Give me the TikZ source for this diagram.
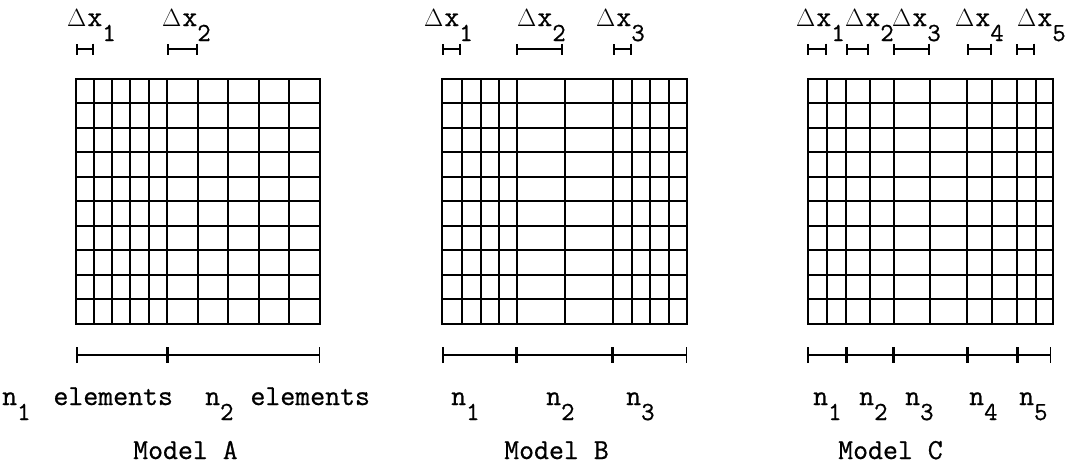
\documentclass[tikz,border=0pt]{standalone}
\usepackage{fontspec}
\usetikzlibrary{arrows.meta}
\newfontfamily\tw[RawFeature={embolden=0.7}]{Latin Modern Mono}
\newcommand\sbx[1]{\raisebox{-15pt}{\fontsize{26}{26}\selectfont #1}}
\newcommand\dlt{{\fontsize{23}{23}\selectfont\(\Delta\)}\kern1pt}
\begin{document}
\begin{tikzpicture}[x=1pt,y=-1pt,
  gridline/.style={line width=2pt,line cap=rect},
  marker/.style={line width=1.6pt,{Bar[width=11pt,line width=1.6pt]}-{Bar[width=11pt,line width=1.6pt]}},
  dimline/.style={line width=1.5pt,{Bar[width=16pt,line width=1.5pt]}-{Bar[width=16pt,line width=1.5pt]}},
  lab/.style={anchor=base west,inner sep=0pt,font=\fontsize{29}{29}\selectfont\tw}]
\useasboundingbox (0,0) rectangle (1068,466);
% ---------- grids ----------
% Model A
\foreach \xx in {76,94,112,130,149,167,198,228,259,289,320}
  \draw[gridline] (\xx,79) -- (\xx,324);
\foreach \yy in {79,103,128,152,177,201,226,250,275,299,324}
  \draw[gridline] (76,\yy) -- (320,\yy);
% Model B
\foreach \xx in {442,462,481,499,517,565,613,632,650,669,687}
  \draw[gridline] (\xx,79) -- (\xx,324);
\foreach \yy in {79,103,128,152,177,201,226,250,275,299,324}
  \draw[gridline] (442,\yy) -- (687,\yy);
% Model C
\foreach \xx in {808,827,846,870,894,930,967,992,1017,1036,1053}
  \draw[gridline] (\xx,79) -- (\xx,324);
\foreach \yy in {79,103,128,152,177,201,226,250,275,299,324}
  \draw[gridline] (808,\yy) -- (1053,\yy);
% ---------- top markers ----------
\coordinate (ta1) at (76,49);  \coordinate (ta2) at (94,49);
\coordinate (ta3) at (167,49); \coordinate (ta4) at (198,49);
\draw[marker] (ta1) -- (ta2);
\draw[marker] (ta3) -- (ta4);
\coordinate (tb1) at (442,49); \coordinate (tb2) at (461,49);
\coordinate (tb3) at (516,49); \coordinate (tb4) at (563,49);
\coordinate (tb5) at (613,49); \coordinate (tb6) at (632,49);
\draw[marker] (tb1) -- (tb2);
\draw[marker] (tb3) -- (tb4);
\draw[marker] (tb5) -- (tb6);
\coordinate (tc1) at (807,49);  \coordinate (tc2) at (827,49);
\coordinate (tc3) at (846,49);  \coordinate (tc4) at (869,49);
\coordinate (tc5) at (893,49);  \coordinate (tc6) at (930,49);
\coordinate (tc7) at (967,49);  \coordinate (tc8) at (992,49);
\coordinate (tc9) at (1016,49); \coordinate (tc10) at (1035,49);
\draw[marker] (tc1) -- (tc2);
\draw[marker] (tc3) -- (tc4);
\draw[marker] (tc5) -- (tc6);
\draw[marker] (tc7) -- (tc8);
\draw[marker] (tc9) -- (tc10);
% ---------- bottom dimension lines ----------
\coordinate (ba1) at (76,355); \coordinate (ba2) at (167,355); \coordinate (ba3) at (320,355);
\draw[dimline] (ba1) -- (ba2);
\draw[dimline] (ba2) -- (ba3);
\coordinate (bb1) at (442,355); \coordinate (bb2) at (516,355);
\coordinate (bb3) at (612,355); \coordinate (bb4) at (687,355);
\draw[dimline] (bb1) -- (bb2);
\draw[dimline] (bb2) -- (bb3);
\draw[dimline] (bb3) -- (bb4);
\coordinate (bc1) at (807,355); \coordinate (bc2) at (846,355);
\coordinate (bc3) at (893,355); \coordinate (bc4) at (967,355);
\coordinate (bc5) at (1017,355); \coordinate (bc6) at (1051,355);
\draw[dimline] (bc1) -- (bc2);
\draw[dimline] (bc2) -- (bc3);
\draw[dimline] (bc3) -- (bc4);
\draw[dimline] (bc4) -- (bc5);
\draw[dimline] (bc5) -- (bc6);
% ---------- top labels ----------
\node[lab] (la1) at (67,26)  {\dlt x\sbx{1}};
\node[lab] (la2) at (162,26) {\dlt x\sbx{2}};
\node[lab] (lb1) at (424,26) {\dlt x\sbx{1}};
\node[lab] (lb2) at (517,26) {\dlt x\sbx{2}};
\node[lab] (lb3) at (596,26) {\dlt x\sbx{3}};
\node[lab] (lc1) at (796,26)  {\dlt x\sbx{1}};
\node[lab] (lc2) at (845,26)  {\dlt x\sbx{2}};
\node[lab] (lc3) at (892,26)  {\dlt x\sbx{3}};
\node[lab] (lc4) at (955,26)  {\dlt x\sbx{4}};
\node[lab] (lc5) at (1017,26) {\dlt x\sbx{5}};
% ---------- bottom labels ----------
\node[lab] (na1) at (2,405)   {n\sbx{1}\hspace{8pt} elements};
\node[lab] (na2) at (205,405) {n\sbx{2}\hspace{2pt} elements};
\node[lab] (nb1) at (451,405) {n\sbx{1}};
\node[lab] (nb2) at (546,405) {n\sbx{2}};
\node[lab] (nb3) at (626,405) {n\sbx{3}};
\node[lab] (nc1) at (813,405) {n\sbx{1}};
\node[lab] (nc2) at (859,405) {n\sbx{2}};
\node[lab] (nc3) at (905,405) {n\sbx{3}};
\node[lab] (nc4) at (969,405) {n\sbx{4}};
\node[lab] (nc5) at (1019,405) {n\sbx{5}};
% ---------- model names ----------
\node[lab] (ma) at (133,459) {Model A};
\node[lab] (mb) at (504,459) {Model B};
\node[lab] (mc) at (838,459) {Model C};
\end{tikzpicture}
\end{document}
